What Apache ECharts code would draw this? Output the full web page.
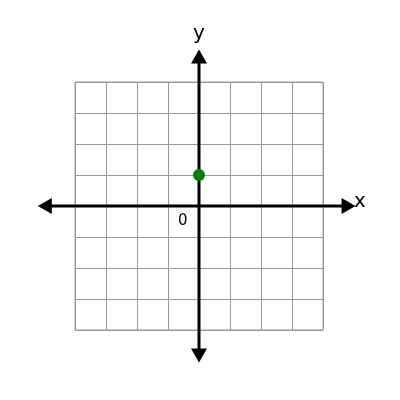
<!DOCTYPE html>
<html><head><meta charset="utf-8">
<script src="https://cdn.jsdelivr.net/npm/echarts@6/dist/echarts.min.js"></script>
<style>html,body{margin:0;padding:0;background:#fff}#c{width:400px;height:400px}</style>
</head><body><div id="c"></div>
<script>
const points = [[0, 1]];
const xRange = [-4, 4];
const yRange = [-4, 4];
const axisSegments = [[-5.2, 0, 5.05, 0], [0, -5.05, 0, 5.05]];
const chart = echarts.init(document.getElementById('c'));
const ax = (min, max) => ({
  type: 'value', min, max, interval: 1,
  axisLine: {show: false}, axisTick: {show: false}, axisLabel: {show: false},
  splitLine: {show: true, lineStyle: {color: '#999', width: 1}}
});
function arrow(tip, from, len, half) {
  const dx = tip[0] - from[0], dy = tip[1] - from[1];
  const d = Math.hypot(dx, dy), ux = dx / d, uy = dy / d;
  const bx = tip[0] - ux * len, by = tip[1] - uy * len;
  return {type: 'polygon', shape: {points: [tip, [bx - uy * half, by + ux * half], [bx + uy * half, by - ux * half]]}, style: {fill: '#000'}};
}
chart.setOption({
  animation: false,
  grid: {left: 75, top: 82, width: 248, height: 248, show: true, borderColor: '#999', borderWidth: 1},
  xAxis: ax(xRange[0], xRange[1]),
  yAxis: ax(yRange[0], yRange[1]),
  series: [{
    type: 'custom', clip: false, z: 5, silent: true,
    data: axisSegments,
    renderItem: function (params, api) {
      const a = api.coord([api.value(0), api.value(1)]);
      const b = api.coord([api.value(2), api.value(3)]);
      const dx = b[0] - a[0], dy = b[1] - a[1], d = Math.hypot(dx, dy);
      const ux = dx / d, uy = dy / d, L = 14;
      return {type: 'group', children: [
        {type: 'line', shape: {x1: a[0] + ux * (L - 2), y1: a[1] + uy * (L - 2), x2: b[0] - ux * (L - 2), y2: b[1] - uy * (L - 2)}, style: {stroke: '#000', lineWidth: 3}},
        arrow(a, b, L, 8), arrow(b, a, L, 8)
      ]};
    }
  }, {
    type: 'scatter', data: points, symbolSize: 12, z: 10,
    itemStyle: {color: '#008000', opacity: 1}
  }],
  graphic: [
    {type: 'text', left: 354, top: 192, style: {text: 'x', font: '20px "DejaVu Sans"', fill: '#000'}},
    {type: 'text', left: 193, top: 24, style: {text: 'y', font: '20px "DejaVu Sans"', fill: '#000'}},
    {type: 'text', left: 178, top: 214, style: {text: '0', font: '15px "DejaVu Sans"', fill: '#000'}}
  ]
});
</script></body></html>
